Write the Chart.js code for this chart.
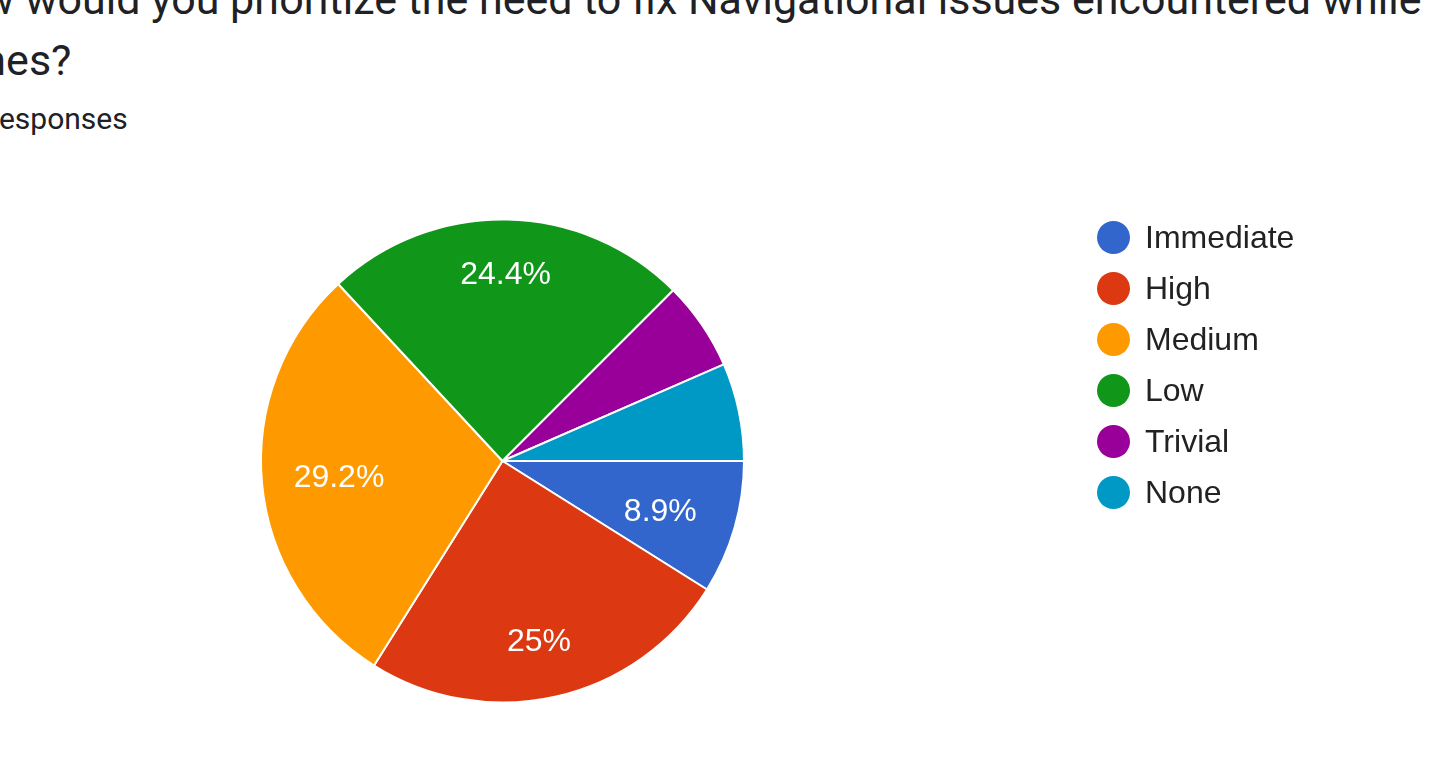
<!DOCTYPE html>
<html>
<head>
<meta charset="utf-8">
<script src="https://cdn.jsdelivr.net/npm/chart.js@4.4.1/dist/chart.umd.min.js"></script>
<style>
  html, body { margin: 0; padding: 0; background: #fff; overflow: hidden; }
  body { width: 1435px; height: 773px; position: relative; }
  #pie { position: absolute; left: 0; top: 0; }
  .q { position: absolute; white-space: nowrap; font-family: Roboto, "Noto Sans", sans-serif; color: #202124; line-height: 1; }
  .q1, .q2 { font-size: 43px; }
  .q3 { font-size: 30px; }
  #legend { position: absolute; left: 1097px; top: 212px; font-family: "Liberation Sans", Arial, sans-serif; font-size: 32px; color: #222; }
  .legend-row { display: flex; align-items: center; height: 51px; }
  .legend-dot { width: 33px; height: 33px; border-radius: 50%; margin-right: 15px; flex: none; }
</style>
</head>
<body>
<div class="q q1" id="q1"><span class="cut">How </span>would you prioritize the need to fix Navigational issues encountered while</div>
<div class="q q2" id="q2"><span class="cut">pho</span>nes?</div>
<div class="q q3" id="q3"><span class="cut">168 r</span>esponses</div>
<canvas id="pie" width="1435" height="773"></canvas>
<div id="legend"></div>
<script>
const labels = ["Immediate", "High", "Medium", "Low", "Trivial", "None"];
const counts = [15, 42, 49, 41, 10, 11];
const colors = ["#3366cc", "#dc3912", "#ff9900", "#109618", "#990099", "#0099c6"];

// place the cut-off question lines so only the visible part shows
const placeLine = (id, visibleX, top) => {
  const el = document.getElementById(id);
  const cut = el.querySelector(".cut");
  el.style.left = (visibleX - cut.offsetWidth) + "px";
  el.style.top = top + "px";
};
const placeLineEnd = (id, endX, top) => {
  const el = document.getElementById(id);
  el.style.left = (endX - el.offsetWidth) + "px";
  el.style.top = top + "px";
};
placeLine("q1", 25, -22);
placeLineEnd("q2", 71, 39);
placeLine("q3", -1, 104);

const total = counts.reduce((s, v) => s + v, 0);

const sliceLabels = {
  id: "sliceLabels",
  afterDatasetsDraw(chart) {
    const { ctx } = chart;
    const arcs = chart.getDatasetMeta(0).data;
    ctx.save();
    ctx.font = "32px 'Liberation Sans', Arial, sans-serif";
    ctx.fillStyle = "#fff";
    ctx.textAlign = "center";
    ctx.textBaseline = "middle";
    arcs.forEach((arc, i) => {
      const frac = counts[i] / total;
      if (frac < 0.08) return;
      const mid = (arc.startAngle + arc.endAngle) / 2;
      const r = arc.outerRadius;
      const x = arc.x + Math.cos(mid) * r * 0.68;
      const y = arc.y + Math.sin(mid) * r * 0.77;
      const pct = Math.round(frac * 1000) / 10;
      ctx.fillText(pct + "%", x, y);
    });
    ctx.restore();
  },
};

new Chart(document.getElementById("pie"), {
  type: "pie",
  data: {
    labels: labels,
    datasets: [{
      data: counts,
      backgroundColor: colors,
      borderColor: "#fff",
      borderWidth: 2,
      hoverOffset: 0,
    }],
  },
  options: {
    responsive: false,
    animation: false,
    rotation: 90,
    radius: 241.5,
    layout: { padding: { left: 241, right: 671, top: 201, bottom: 52 } },
    plugins: {
      legend: { display: false },
      tooltip: { enabled: false },
    },
  },
  plugins: [sliceLabels],
});

document.getElementById("legend").innerHTML = labels
  .map((label, idx) => `
    <div class="legend-row">
      <span class="legend-dot" style="background:${colors[idx]}"></span>
      <span class="legend-label">${label}</span>
    </div>`)
  .join("");
</script>
</body>
</html>
